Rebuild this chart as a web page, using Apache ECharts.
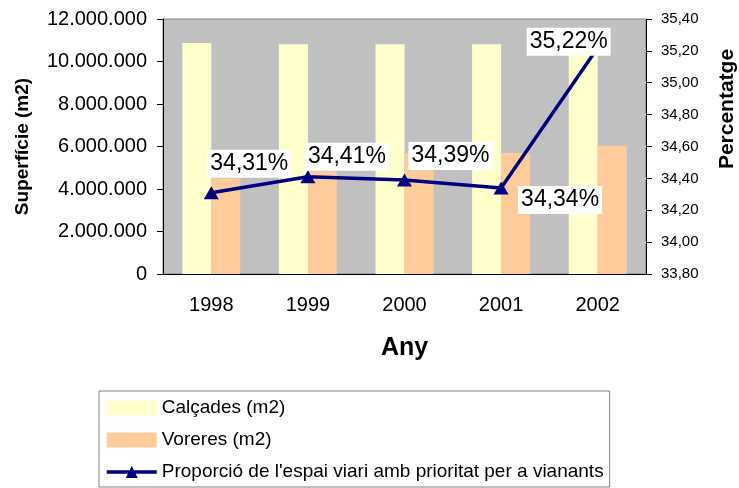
<!DOCTYPE html>
<html>
<head>
<meta charset="utf-8">
<script src="https://cdn.jsdelivr.net/npm/echarts@6/dist/echarts.min.js"></script>
<style>
  html, body { margin: 0; padding: 0; background: #fff; }
  #chart { width: 739px; height: 488px; }
</style>
</head>
<body>
<div id="chart"></div>
<script>
var years = ['1998', '1999', '2000', '2001', '2002'];
var calcades = [10870000, 10810000, 10810000, 10810000, 10850000];
var voreres = [4500000, 4850000, 5690000, 5690000, 6040000];
var proporcio = [34.31, 34.41, 34.39, 34.34, 35.22];

var seriesNames = ['Calçades (m2)', 'Voreres (m2)', "Proporció de l'espai viari amb prioritat per a vianants"];

// where each percentage label sits, relative to its point
var labelShift = [[38, -29], [39, -20], [46, -24], [59, 12], [-29, -6]];

var font = 'Liberation Sans, Arial, sans-serif';

function dots(v) {
    return String(v).replace(/\B(?=(\d{3})+(?!\d))/g, '.');
}
function comma(v, d) {
    return v.toFixed(d).replace('.', ',');
}

var lineData = proporcio.map(function (v, i) {
    return {
        value: v,
        label: { offset: labelShift[i] }
    };
});

var myChart = echarts.init(document.getElementById('chart'));

var option = {
    animation: false,
    textStyle: { fontFamily: font },
    grid: {
        left: 163, right: 93, top: 19, bottom: 214,
        show: true,
        backgroundColor: '#c0c0c0',
        borderColor: '#808080',
        borderWidth: 1
    },
    legend: {
        orient: 'vertical',
        left: 99,
        top: 391,
        padding: [7, 6, 5, 6],
        borderColor: '#808080',
        borderWidth: 1,
        itemWidth: 50,
        itemHeight: 15,
        itemGap: 12,
        textStyle: { fontSize: 19, color: '#000', fontFamily: font, lineHeight: 20 },
        data: [
            { name: seriesNames[0], icon: 'rect' },
            { name: seriesNames[1], icon: 'rect' },
            { name: seriesNames[2], lineStyle: { width: 3.5 } }
        ]
    },
    xAxis: {
        type: 'category',
        data: years,
        name: 'Any',
        nameLocation: 'middle',
        nameGap: 62,
        nameTextStyle: { fontSize: 25, fontWeight: 'bold', color: '#000', verticalAlign: 'top' },
        axisLine: { lineStyle: { color: '#000', width: 1 } },
        axisTick: { length: 6, lineStyle: { color: '#000' } },
        axisLabel: { fontSize: 20, color: '#000', margin: 21 }
    },
    yAxis: [{
        type: 'value',
        min: 0,
        max: 12000000,
        interval: 2000000,
        name: 'Superfície (m2)',
        nameLocation: 'middle',
        nameGap: 131,
        nameTextStyle: { fontSize: 19, fontWeight: 'bold', color: '#000' },
        splitLine: { show: false },
        axisLine: { show: true, lineStyle: { color: '#000' } },
        axisTick: { show: true, length: 6, lineStyle: { color: '#000' } },
        axisLabel: { fontSize: 20, color: '#000', margin: 16, formatter: dots }
    }, {
        type: 'value',
        min: 33.8,
        max: 35.4,
        interval: 0.2,
        position: 'right',
        splitLine: { show: false },
        axisLine: { show: true, lineStyle: { color: '#000' } },
        axisTick: { show: true, length: 6, lineStyle: { color: '#000' } },
        axisLabel: { fontSize: 15, color: '#000', margin: 15, formatter: function (v) { return comma(v, 2); } }
    }],
    graphic: [{
        type: 'text',
        x: 727,
        y: 109,
        rotation: Math.PI / 2,
        style: {
            text: 'Percentatge',
            fontSize: 21,
            fontWeight: 'bold',
            fontFamily: font,
            fill: '#000',
            align: 'center',
            verticalAlign: 'middle'
        }
    }],
    series: [{
        name: seriesNames[0],
        type: 'bar',
        data: calcades,
        barGap: 0,
        barCategoryGap: '40%',
        itemStyle: { color: '#ffffcc' }
    }, {
        name: seriesNames[1],
        type: 'bar',
        data: voreres,
        barGap: 0,
        barCategoryGap: '40%',
        itemStyle: { color: '#ffcc99' }
    }, {
        name: seriesNames[2],
        type: 'line',
        yAxisIndex: 1,
        data: lineData,
        symbol: 'triangle',
        symbolSize: [15, 13],
        lineStyle: { color: '#000080', width: 3.5 },
        itemStyle: { color: '#000080' },
        z: 5,
        label: {
            show: true,
            position: 'inside',
            fontSize: 23,
            color: '#000',
            backgroundColor: '#fff',
            padding: [3, 3, 2, 3],
            formatter: function (p) { return comma(p.value, 2) + '%'; }
        }
    }]
};

myChart.setOption(option);
</script>
</body>
</html>
